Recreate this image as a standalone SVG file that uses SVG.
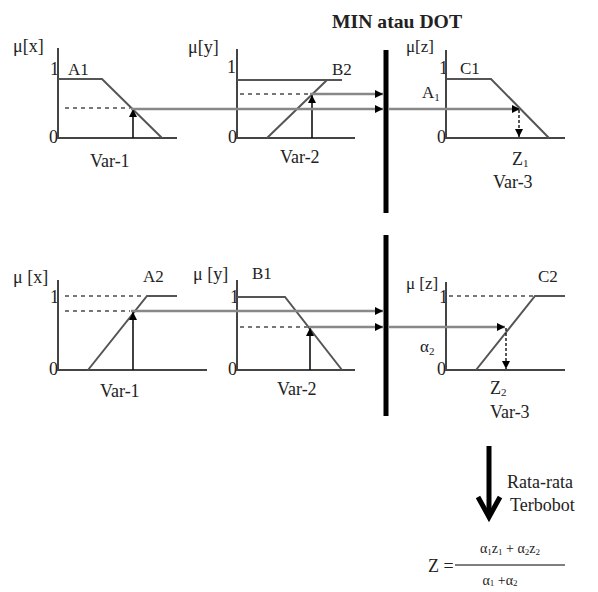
<svg xmlns="http://www.w3.org/2000/svg" width="598" height="592" viewBox="0 0 598 592">
<style>
text{font-family:"Liberation Serif","Times New Roman",serif;fill:#222;font-size:18px}
.s{font-size:17px}
.b{font-weight:bold;font-size:19px}
.f{font-size:14px}
.ax{stroke:#444;stroke-width:2;fill:none}
.mf{stroke:#555;stroke-width:2;fill:none}
.dash{stroke:#777;stroke-width:2;stroke-dasharray:4 4;fill:none}
.flow{stroke:#888;stroke-width:2.5;fill:none}
.up{stroke:#111;stroke-width:1.6;fill:none}
.dn{stroke:#111;stroke-width:1.4;stroke-dasharray:3 2;fill:none}
.bar{stroke:#000;stroke-width:5}
</style>
<defs>
<marker id="ah" viewBox="0 0 10 10" refX="10" refY="5" markerUnits="userSpaceOnUse" markerWidth="9" markerHeight="8" orient="auto">
<path d="M0,0 L10,5 L0,10 z" fill="#000"/>
</marker>
</defs>

<g id="graph-x-top">
<text x="13" y="52">μ[x]</text>
<text x="50" y="75">1</text>
<text x="58" y="143" text-anchor="end">0</text>
<text class="s" x="68" y="75">A1</text>
<text x="90" y="167">Var-1</text>
<path class="ax" d="M58,48 V138 H177"/>
<path class="mf" d="M58,79 H102 L162,138"/>
<path class="dash" d="M65,108 H130"/>
</g>

<g id="graph-y-top">
<text x="188" y="53">μ[y]</text>
<text x="227" y="73">1</text>
<text x="237" y="143" text-anchor="end">0</text>
<text class="s" x="332" y="75">B2</text>
<text x="280" y="163">Var-2</text>
<path class="ax" d="M237,49 V138 H355"/>
<path class="mf" d="M237,80 H342 M267,138 L327,80"/>
<path class="dash" d="M240,94 H309"/>
</g>

<g id="graph-z-top">
<text class="b" x="332" y="28" textLength="130" lengthAdjust="spacingAndGlyphs">MIN atau DOT</text>
<text class="s" x="406" y="52">μ[z]</text>
<text x="439" y="74">1</text>
<text x="446" y="143" text-anchor="end">0</text>
<text class="s" x="460" y="74">C1</text>
<text class="s" x="422" y="98">A<tspan font-size="11" dy="3">1</tspan></text>
<text x="512" y="165">Z<tspan font-size="11" dy="2">1</tspan></text>
<text x="493" y="188">Var-3</text>
<path class="ax" d="M446,50 V138 H565"/>
<path class="mf" d="M447,79 H491 L549,138"/>
</g>

<g id="graph-x-bottom">
<text x="13" y="283">μ [x]</text>
<text x="50" y="303">1</text>
<text x="58" y="375" text-anchor="end">0</text>
<text class="s" x="143" y="282">A2</text>
<text x="100" y="397">Var-1</text>
<path class="ax" d="M58,280 V370 H207"/>
<path class="mf" d="M88,370 L147,296 H177"/>
<path class="dash" d="M65,296 H145 M65,311 H130"/>
</g>

<g id="graph-y-bottom">
<text x="193" y="280">μ [y]</text>
<text class="s" x="252" y="279">B1</text>
<text x="230" y="303">1</text>
<text x="237" y="375" text-anchor="end">0</text>
<text x="277" y="395">Var-2</text>
<path class="ax" d="M237,280 V370 H355"/>
<path class="mf" d="M237,297 H285 L342,370"/>
<path class="dash" d="M240,327 H308"/>
</g>

<g id="graph-z-bottom">
<text class="s" x="406" y="289">μ [z]</text>
<text class="s" x="538" y="282">C2</text>
<text x="439" y="303">1</text>
<text x="446" y="375" text-anchor="end">0</text>
<text class="s" x="420" y="352">α<tspan font-size="11" dy="3">2</tspan></text>
<text x="490" y="394">Z<tspan font-size="11" dy="2">2</tspan></text>
<text x="490" y="418">Var-3</text>
<path class="ax" d="M446,282 V370 H565"/>
<path class="mf" d="M476,370 L535,296 H565"/>
<path class="dash" d="M449,296 H533"/>
</g>

<g id="bars">
<line class="bar" x1="386" y1="50" x2="386" y2="213"/>
<line class="bar" x1="386" y1="235" x2="386" y2="416"/>
</g>

<g id="connectors">
<line class="up" x1="133" y1="138" x2="133" y2="109" marker-end="url(#ah)"/>
<line class="up" x1="312" y1="138" x2="312" y2="95" marker-end="url(#ah)"/>
<line class="flow" x1="131" y1="109" x2="383" y2="109" marker-end="url(#ah)"/>
<line class="flow" x1="310" y1="94" x2="383" y2="94" marker-end="url(#ah)"/>
<line class="flow" x1="389" y1="109" x2="520" y2="109" marker-end="url(#ah)"/>
<line class="dn" x1="519" y1="110" x2="519" y2="137" marker-end="url(#ah)"/>

<line class="up" x1="133" y1="370" x2="133" y2="312" marker-end="url(#ah)"/>
<line class="up" x1="310" y1="370" x2="310" y2="328" marker-end="url(#ah)"/>
<line class="flow" x1="131" y1="311" x2="383" y2="311" marker-end="url(#ah)"/>
<line class="flow" x1="309" y1="327" x2="383" y2="327" marker-end="url(#ah)"/>
<line class="flow" x1="389" y1="327" x2="505" y2="327" marker-end="url(#ah)"/>
<line class="dn" x1="506" y1="328" x2="506" y2="369" marker-end="url(#ah)"/>
</g>

<g id="weighted-average">
<path d="M489,446 V514" stroke="#000" stroke-width="5" fill="none"/>
<path d="M478,497 L489,517 L500,497" stroke="#000" stroke-width="5" fill="none" stroke-linejoin="miter"/>
<text x="507" y="488" font-size="19">Rata-rata</text>
<text x="510" y="511" font-size="19">Terbobot</text>
</g>

<g id="formula">
<text x="428" y="572" font-size="16">Z =</text>
<line x1="455" y1="565" x2="565" y2="565" stroke="#555" stroke-width="1.5"/>
<text class="f" x="510" y="553" text-anchor="middle">α<tspan font-size="9" dy="2">1</tspan><tspan dy="-2">z</tspan><tspan font-size="9" dy="2">1</tspan><tspan dy="-2"> + α</tspan><tspan font-size="9" dy="2">2</tspan><tspan dy="-2">z</tspan><tspan font-size="9" dy="2">2</tspan></text>
<text class="f" x="500" y="585" text-anchor="middle">α<tspan font-size="9" dy="1">1</tspan><tspan dy="-1"> +α</tspan><tspan font-size="9" dy="1">2</tspan></text>
</g>
</svg>
